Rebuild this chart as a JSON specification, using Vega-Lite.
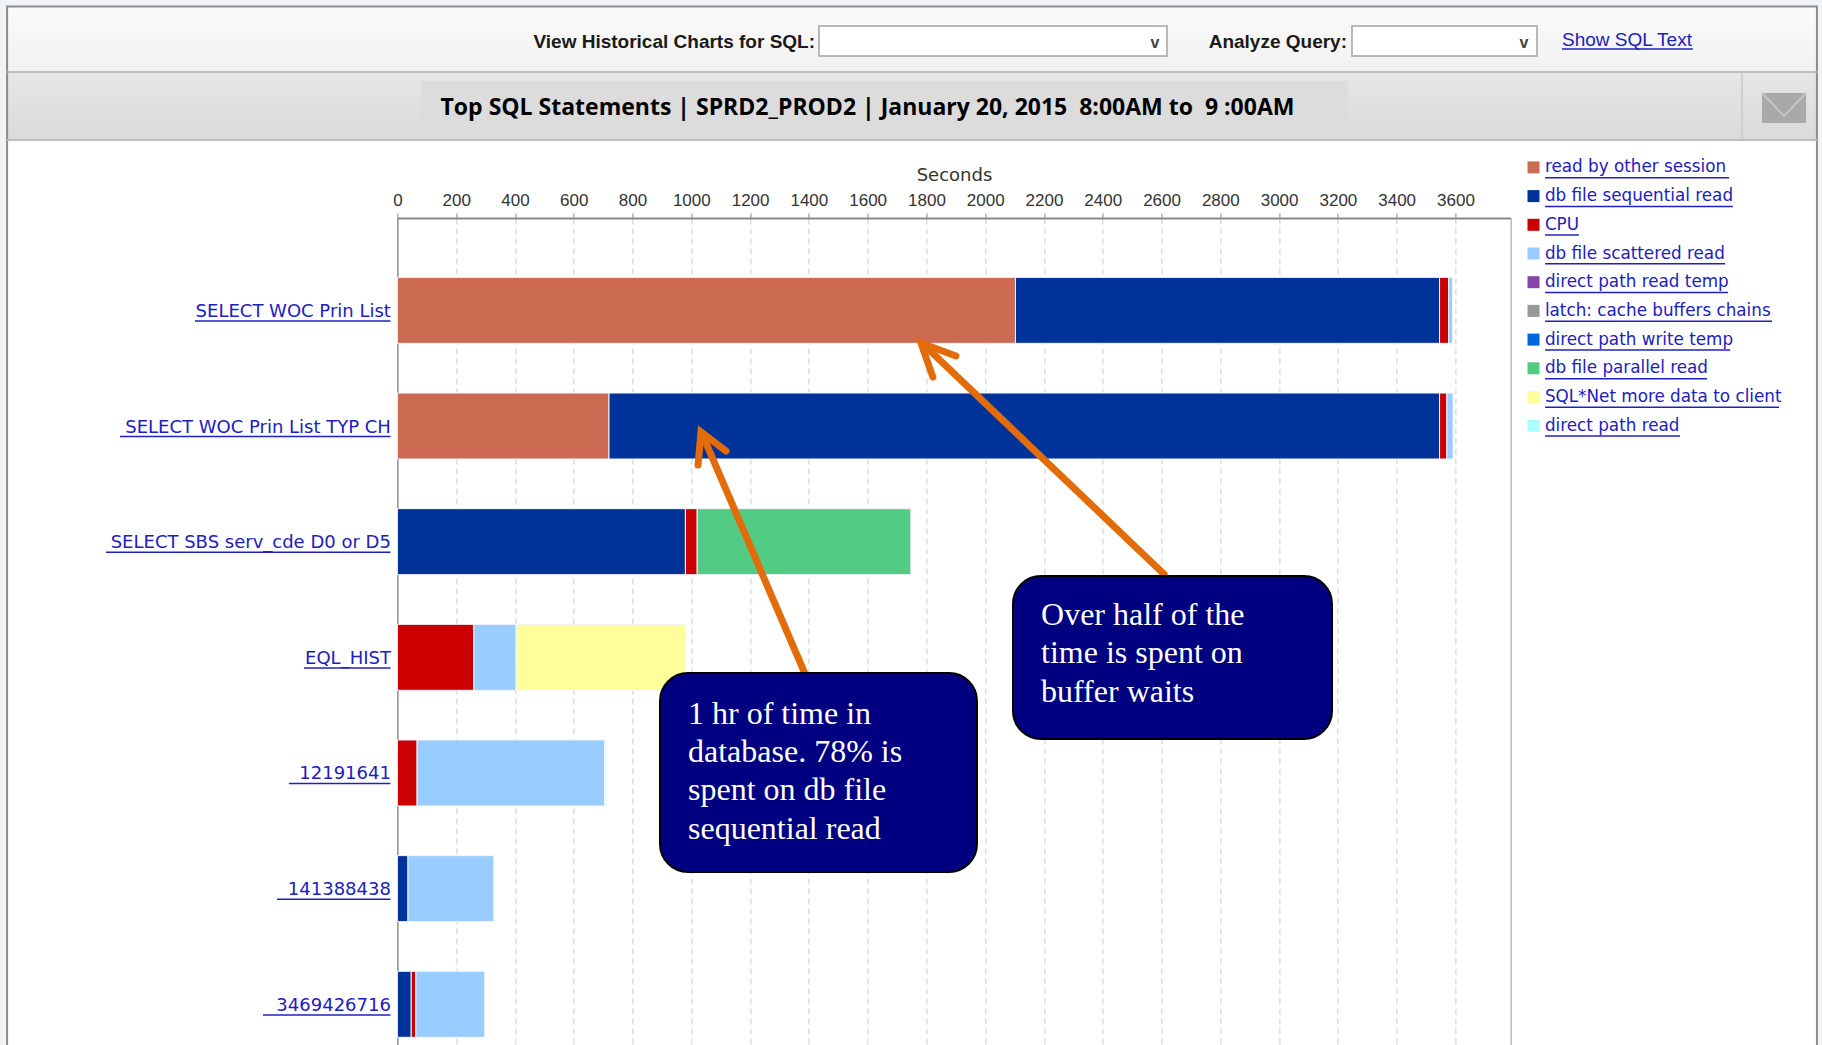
{"$schema":"https://vega.github.io/schema/vega-lite/v6.json","autosize":"none","padding":{"left":397.4,"top":218,"right":311.4,"bottom":0},"width":1113.2,"height":827,"background":"#ffffff",
"config":{"view":{"stroke":"#999999"},"text":{"font":"Liberation Sans"}},
"resolve":{"scale":{"y":"independent"},"axis":{"x":"independent"}},
"layer":[
{"data":{"values":[
{"statement":"SELECT WOC Prin List","event":"read by other session","seconds":2103,"rank":1},
{"statement":"SELECT WOC Prin List","event":"db file sequential read","seconds":1443,"rank":2},
{"statement":"SELECT WOC Prin List","event":"CPU","seconds":31,"rank":3},
{"statement":"SELECT WOC Prin List","event":"db file scattered read","seconds":13,"rank":4},
{"statement":"SELECT WOC Prin List TYP CH","event":"read by other session","seconds":720,"rank":1},
{"statement":"SELECT WOC Prin List TYP CH","event":"db file sequential read","seconds":2826,"rank":2},
{"statement":"SELECT WOC Prin List TYP CH","event":"CPU","seconds":25,"rank":3},
{"statement":"SELECT WOC Prin List TYP CH","event":"db file scattered read","seconds":21,"rank":4},
{"statement":"SELECT SBS serv_cde D0 or D5","event":"db file sequential read","seconds":980,"rank":2},
{"statement":"SELECT SBS serv_cde D0 or D5","event":"CPU","seconds":40,"rank":3},
{"statement":"SELECT SBS serv_cde D0 or D5","event":"db file parallel read","seconds":727,"rank":8},
{"statement":"EQL_HIST","event":"CPU","seconds":260,"rank":3},
{"statement":"EQL_HIST","event":"db file scattered read","seconds":144,"rank":4},
{"statement":"EQL_HIST","event":"SQL*Net more data to client","seconds":577,"rank":9},
{"statement":"12191641","event":"CPU","seconds":67,"rank":3},
{"statement":"12191641","event":"db file scattered read","seconds":638,"rank":4},
{"statement":"12191641","event":"SQL*Net more data to client","seconds":7,"rank":9},
{"statement":"141388438","event":"db file sequential read","seconds":36,"rank":2},
{"statement":"141388438","event":"db file scattered read","seconds":292,"rank":4},
{"statement":"3469426716","event":"db file sequential read","seconds":47,"rank":2},
{"statement":"3469426716","event":"CPU","seconds":16,"rank":3},
{"statement":"3469426716","event":"db file scattered read","seconds":234,"rank":4}
]},
"mark":{"type":"bar","stroke":"#f2f6ff","strokeWidth":1},
"encoding":{
"x":{"field":"seconds","type":"quantitative","stack":"zero","scale":{"domain":[0,3787.7],"nice":false},"axis":{"orient":"top","title":"Seconds","titleFont":"DejaVu Sans","titleFontSize":18,"titleFontWeight":"normal","titleColor":"#333333","titlePadding":7,"values":[0,200,400,600,800,1000,1200,1400,1600,1800,2000,2200,2400,2600,2800,3000,3200,3400,3600],"format":"d","labelFont":"Liberation Sans","labelFontSize":17,"labelColor":"#333333","labelPadding":4,"labelFlush":false,"labelOverlap":false,"tickColor":"#888888","tickSize":5,"domainColor":"#888888","domainWidth":2,"grid":true,"gridColor":"#cccccc","gridDash":[6,4]}},
"y":{"field":"statement","type":"nominal","sort":["SELECT WOC Prin List","SELECT WOC Prin List TYP CH","SELECT SBS serv_cde D0 or D5","EQL_HIST","12191641","141388438","3469426716"],"scale":{"paddingInner":0.4294,"paddingOuter":0.29,"align":0.885},"axis":{"title":null,"ticks":false,"labelPadding":7,"labelLimit":0,"labelOffset":1.5,"labelFont":"DejaVu Sans","labelFontSize":18,"labelColor":"#2020c0","domainColor":"#888888","grid":false}},
"color":{"field":"event","type":"nominal","scale":{"domain":["read by other session","db file sequential read","CPU","db file scattered read","direct path read temp","latch: cache buffers chains","direct path write temp","db file parallel read","SQL*Net more data to client","direct path read"],"range":["#cc6b52","#00339a","#cc0000","#99ccff","#8844aa","#999999","#0066dd","#52cc85","#ffff99","#aaffff"]},"legend":{"orient":"none","legendX":1127.7,"legendY":-59,"title":null,"symbolType":"square","symbolSize":144,"symbolStrokeWidth":0,"labelFont":"DejaVu Sans","labelFontSize":16.8,"labelColor":"#2020c0","labelOffset":3,"rowPadding":10.7,"labelLimit":0}},
"order":{"field":"rank","type":"quantitative"}}},
{"data":{"values":[{"s":-1352,"s2":-1328,"r":-1.689,"r2":7.346},{"s":4830,"s2":4847,"r":-1.689,"r2":7.346},{"s":-1352,"s2":4847,"r":-1.689,"r2":-1.63}]},
"mark":{"type":"rect","color":"#f1f3f7"},
"encoding":{"x":{"field":"s","type":"quantitative","scale":{"domain":[0,3787.7],"nice":false},"axis":null},"x2":{"field":"s2"},"y":{"field":"r","type":"quantitative","scale":{"domain":[0.196,7.346],"nice":false,"zero":false,"reverse":true},"axis":null},"y2":{"field":"r2"}}},
{"data":{"values":[{"s":-1328,"s2":4830,"r":-1.628,"r2":-1.075}]},
"mark":{"type":"rect","color":{"gradient":"linear","x1":0,"y1":0,"x2":0,"y2":1,"stops":[{"offset":0,"color":"#fbfbfb"},{"offset":1,"color":"#f1f1f1"}]}},
"encoding":{"x":{"field":"s","type":"quantitative","scale":{"domain":[0,3787.7],"nice":false},"axis":null},"x2":{"field":"s2"},"y":{"field":"r","type":"quantitative","scale":{"domain":[0.196,7.346],"nice":false,"zero":false,"reverse":true},"axis":null},"y2":{"field":"r2"}}},
{"data":{"values":[{"s":-1328,"s2":4830,"r":-1.0576,"r2":-0.478}]},
"mark":{"type":"rect","color":{"gradient":"linear","x1":0,"y1":0,"x2":0,"y2":1,"stops":[{"offset":0,"color":"#e6e6e6"},{"offset":1,"color":"#dadada"}]}},
"encoding":{"x":{"field":"s","type":"quantitative","scale":{"domain":[0,3787.7],"nice":false},"axis":null},"x2":{"field":"s2"},"y":{"field":"r","type":"quantitative","scale":{"domain":[0.196,7.346],"nice":false,"zero":false,"reverse":true},"axis":null},"y2":{"field":"r2"}}},
{"data":{"values":[{"s":80.3,"s2":3234.4,"r":-0.988,"r2":-0.539}]},
"mark":{"type":"rect","color":"#dcdcdc"},
"encoding":{"x":{"field":"s","type":"quantitative","scale":{"domain":[0,3787.7],"nice":false},"axis":null},"x2":{"field":"s2"},"y":{"field":"r","type":"quantitative","scale":{"domain":[0.196,7.346],"nice":false,"zero":false,"reverse":true},"axis":null},"y2":{"field":"r2"}}},
{"data":{"values":[{"s":1599.5,"r":-0.752,"t":"Top SQL Statements | SPRD2_PROD2 | January 20, 2015 \u00a08:00AM to \u00a09 :00AM"}]},
"mark":{"type":"text","font":"Open Sans","fontWeight":"bold","fontSize":23,"color":"#000000","align":"center","baseline":"middle"},
"encoding":{"x":{"field":"s","type":"quantitative","scale":{"domain":[0,3787.7],"nice":false},"axis":null},"y":{"field":"r","type":"quantitative","scale":{"domain":[0.196,7.346],"nice":false,"zero":false,"reverse":true},"axis":null},"text":{"field":"t"}}},
{"data":{"values":[{"s":1434.5,"s2":2618.6,"r":-1.464,"r2":-1.205},{"s":3248,"s2":3877.5,"r":-1.464,"r2":-1.205}]},
"mark":{"type":"rect","color":"#ffffff","stroke":"#b8b8b8","strokeWidth":2},
"encoding":{"x":{"field":"s","type":"quantitative","scale":{"domain":[0,3787.7],"nice":false},"axis":null},"x2":{"field":"s2"},"y":{"field":"r","type":"quantitative","scale":{"domain":[0.196,7.346],"nice":false,"zero":false,"reverse":true},"axis":null},"y2":{"field":"r2"}}},
{"data":{"values":[{"s":-1328,"s2":4830,"r":-1.6325,"r2":7.6}]},
"mark":{"type":"rect","fill":null,"fillOpacity":0,"stroke":"#8c8c8c","strokeWidth":2},
"encoding":{"x":{"field":"s","type":"quantitative","scale":{"domain":[0,3787.7],"nice":false},"axis":null},"x2":{"field":"s2"},"y":{"field":"r","type":"quantitative","scale":{"domain":[0.196,7.346],"nice":false,"zero":false,"reverse":true},"axis":null},"y2":{"field":"r2"}}},
{"data":{"values":[{"s":-1328,"s2":4830,"r":-1.066},{"s":-1328,"s2":4830,"r":-0.478}]},
"mark":{"type":"rule","color":"#bdbdbd","strokeWidth":2},
"encoding":{"x":{"field":"s","type":"quantitative","scale":{"domain":[0,3787.7],"nice":false},"axis":null},"x2":{"field":"s2"},"y":{"field":"r","type":"quantitative","scale":{"domain":[0.196,7.346],"nice":false,"zero":false,"reverse":true},"axis":null}}},
{"data":{"values":[{"s":4575,"r":-1.06,"r2":-0.478}]},
"mark":{"type":"rule","color":"#c8c8c8","strokeWidth":1.5},
"encoding":{"x":{"field":"s","type":"quantitative","scale":{"domain":[0,3787.7],"nice":false},"axis":null},"y":{"field":"r","type":"quantitative","scale":{"domain":[0.196,7.346],"nice":false,"zero":false,"reverse":true},"axis":null},"y2":{"field":"r2"}}},
{"data":{"values":[{"s":4643,"s2":4793,"r":-0.885,"r2":-0.625}]},
"mark":{"type":"rect","color":"#a9a9a9"},
"encoding":{"x":{"field":"s","type":"quantitative","scale":{"domain":[0,3787.7],"nice":false},"axis":null},"x2":{"field":"s2"},"y":{"field":"r","type":"quantitative","scale":{"domain":[0.196,7.346],"nice":false,"zero":false,"reverse":true},"axis":null},"y2":{"field":"r2"}}},
{"data":{"values":[{"s":4643,"r":-0.885,"o":1},{"s":4718,"r":-0.686,"o":2},{"s":4793,"r":-0.885,"o":3}]},
"mark":{"type":"line","color":"#c4c4c4","strokeWidth":2},
"encoding":{"x":{"field":"s","type":"quantitative","scale":{"domain":[0,3787.7],"nice":false},"axis":null},"y":{"field":"r","type":"quantitative","scale":{"domain":[0.196,7.346],"nice":false,"zero":false,"reverse":true},"axis":null},"order":{"field":"o"}}},
{"data":{"values":[{"s":1387,"s2":1040,"r":4.138,"r2":2.081},{"s":2615,"s2":1792,"r":3.291,"r2":1.294}]},
"mark":{"type":"rule","color":"#e36c0a","strokeWidth":7},
"encoding":{"x":{"field":"s","type":"quantitative","scale":{"domain":[0,3787.7],"nice":false},"axis":null},"x2":{"field":"s2"},"y":{"field":"r","type":"quantitative","scale":{"domain":[0.196,7.346],"nice":false,"zero":false,"reverse":true},"axis":null},"y2":{"field":"r2"}}},
{"data":{"values":[{"a":1,"o":1,"s":1023,"r":2.331},{"a":1,"o":2,"s":1033,"r":2.046},{"a":1,"o":3,"s":1118,"r":2.21},{"a":2,"o":1,"s":1822,"r":1.571},{"a":2,"o":2,"s":1781.6,"r":1.277},{"a":2,"o":3,"s":1900.6,"r":1.389}]},
"mark":{"type":"line","color":"#e36c0a","strokeWidth":7,"strokeCap":"round","strokeJoin":"miter"},
"encoding":{"x":{"field":"s","type":"quantitative","scale":{"domain":[0,3787.7],"nice":false},"axis":null},"y":{"field":"r","type":"quantitative","scale":{"domain":[0.196,7.346],"nice":false,"zero":false,"reverse":true},"axis":null},"detail":{"field":"a"},"order":{"field":"o"}}},
{"data":{"values":[{"s":893.5,"s2":1972,"r":4.13,"r2":5.85},{"s":2094.6,"s2":3180,"r":3.291,"r2":4.7}]},
"mark":{"type":"rect","color":"#000080","stroke":"#000000","strokeWidth":2,"cornerRadius":28},
"encoding":{"x":{"field":"s","type":"quantitative","scale":{"domain":[0,3787.7],"nice":false},"axis":null},"x2":{"field":"s2"},"y":{"field":"r","type":"quantitative","scale":{"domain":[0.196,7.346],"nice":false,"zero":false,"reverse":true},"axis":null},"y2":{"field":"r2"}}},
{"data":{"values":[{"s":988.8,"r":4.483,"t":"1 hr of time in"},{"s":988.8,"r":4.811,"t":"database. 78% is"},{"s":988.8,"r":5.14,"t":"spent on db file"},{"s":988.8,"r":5.477,"t":"sequential read"},{"s":2190,"r":3.627,"t":"Over half of the"},{"s":2190,"r":3.955,"t":"time is spent on"},{"s":2190,"r":4.293,"t":"buffer waits"}]},
"mark":{"type":"text","font":"Liberation Serif","fontSize":32,"color":"#ffffff","align":"left","baseline":"middle"},
"encoding":{"x":{"field":"s","type":"quantitative","scale":{"domain":[0,3787.7],"nice":false},"axis":null},"y":{"field":"r","type":"quantitative","scale":{"domain":[0.196,7.346],"nice":false,"zero":false,"reverse":true},"axis":null},"text":{"field":"t"}}},
{"data":{"values":[{"s":1421,"r":-1.326,"t":"View Historical Charts for SQL:"},{"s":3231,"r":-1.326,"t":"Analyze Query:"}]},
"mark":{"type":"text","font":"Liberation Sans","fontWeight":"bold","fontSize":19,"color":"#1a1a1a","align":"right","baseline":"middle"},
"encoding":{"x":{"field":"s","type":"quantitative","scale":{"domain":[0,3787.7],"nice":false},"axis":null},"y":{"field":"r","type":"quantitative","scale":{"domain":[0.196,7.346],"nice":false,"zero":false,"reverse":true},"axis":null},"text":{"field":"t"}}},
{"data":{"values":[{"s":2578,"r":-1.32,"t":"v"},{"s":3833,"r":-1.32,"t":"v"}]},
"mark":{"type":"text","font":"Liberation Sans","fontWeight":"bold","fontSize":16,"color":"#444444","align":"center","baseline":"middle"},
"encoding":{"x":{"field":"s","type":"quantitative","scale":{"domain":[0,3787.7],"nice":false},"axis":null},"y":{"field":"r","type":"quantitative","scale":{"domain":[0.196,7.346],"nice":false,"zero":false,"reverse":true},"axis":null},"text":{"field":"t"}}},
{"data":{"values":[{"s":3962.6,"r":-1.343,"t":"Show SQL Text"}]},
"mark":{"type":"text","font":"Liberation Sans","fontSize":19,"color":"#2020c0","align":"left","baseline":"middle"},
"encoding":{"x":{"field":"s","type":"quantitative","scale":{"domain":[0,3787.7],"nice":false},"axis":null},"y":{"field":"r","type":"quantitative","scale":{"domain":[0.196,7.346],"nice":false,"zero":false,"reverse":true},"axis":null},"text":{"field":"t"}}},
{"data":{"values":[{"s":3962.6,"s2":4408,"r":-1.265},{"s":-688.7,"s2":-23.5,"r":1.086},{"s":-943.9,"s2":-23.5,"r":2.086},{"s":-991.5,"s2":-23.5,"r":3.086},{"s":-318,"s2":-23.5,"r":4.086},{"s":-369,"s2":-23.5,"r":5.086},{"s":-409.7,"s2":-23.5,"r":6.086},{"s":-457.3,"s2":-23.5,"r":7.086},{"s":3905,"s2":4531,"r":-0.152},{"s":3905,"s2":4544,"r":0.096},{"s":3905,"s2":4020,"r":0.344},{"s":3905,"s2":4517.6,"r":0.592},{"s":3905,"s2":4527.8,"r":0.84},{"s":3905,"s2":4677,"r":1.088},{"s":3905,"s2":4534.6,"r":1.337},{"s":3905,"s2":4456,"r":1.585},{"s":3905,"s2":4701,"r":1.833},{"s":3905,"s2":4364,"r":2.081}]},
"mark":{"type":"rule","color":"#2020c0","strokeWidth":1.5},
"encoding":{"x":{"field":"s","type":"quantitative","scale":{"domain":[0,3787.7],"nice":false},"axis":null},"x2":{"field":"s2"},"y":{"field":"r","type":"quantitative","scale":{"domain":[0.196,7.346],"nice":false,"zero":false,"reverse":true},"axis":null}}}
]}
